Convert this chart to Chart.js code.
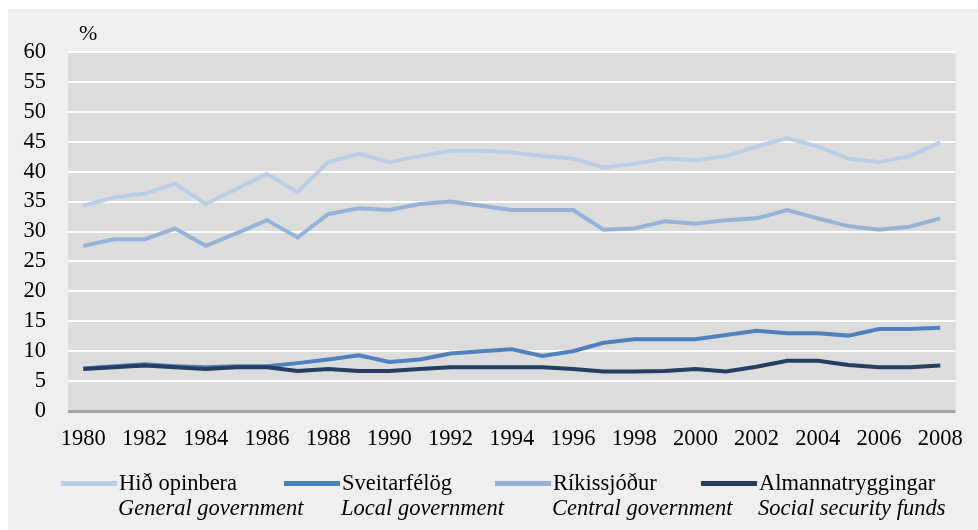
<!DOCTYPE html>
<html>
<head>
<meta charset="utf-8">
<script src="https://cdn.jsdelivr.net/npm/chart.js@4/dist/chart.umd.min.js"></script>
<style>
  html, body { margin: 0; padding: 0; background: #fff; }
  #wrap { position: relative; width: 978px; height: 530px; }
  #chart { position: absolute; left: 0; top: 0; }
  .leg { position: absolute; top: 470px; font-family: "Liberation Serif", "Times New Roman", serif; font-size: 22.5px; line-height: 25px; color: #000; }
  .leg .sw { position: absolute; top: 11px; height: 5px; width: 56px; }
  .leg .txt { position: absolute; white-space: nowrap; }
  .leg .en { font-style: italic; }
</style>
</head>
<body>
<div id="wrap">
  <canvas id="chart" width="978" height="530"></canvas>
  <div id="legend"></div>
</div>
<script>
// Gögn - hlutfall af VLF (%)
const ar = ['1980','1981','1982','1983','1984','1985','1986','1987','1988','1989',
  '1990','1991','1992','1993','1994','1995','1996','1997','1998','1999',
  '2000','2001','2002','2003','2004','2005','2006','2007','2008'];

const hidOpinbera = [34.3, 35.7, 36.3, 38.0, 34.6, 37.1, 39.6, 36.6, 41.6, 43.0,
  41.6, 42.6, 43.5, 43.5, 43.2, 42.6, 42.2, 40.7, 41.3, 42.2,
  41.9, 42.6, 44.2, 45.6, 44.2, 42.2, 41.6, 42.6, 44.9];

const sveitarfelog = [7.1, 7.5, 7.8, 7.5, 7.3, 7.5, 7.5, 8.0, 8.6, 9.3,
  8.2, 8.6, 9.6, 10.0, 10.3, 9.2, 10.0, 11.4, 12.0, 12.0,
  12.0, 12.7, 13.4, 13.0, 13.0, 12.6, 13.7, 13.7, 13.9];

const rikissjodur = [27.6, 28.7, 28.7, 30.5, 27.6, 29.7, 31.9, 29.0, 32.9, 33.9,
  33.6, 34.6, 35.0, 34.3, 33.6, 33.6, 33.6, 30.3, 30.5, 31.7,
  31.3, 31.9, 32.2, 33.6, 32.2, 30.9, 30.3, 30.8, 32.2];

const almannatryggingar = [7.0, 7.3, 7.6, 7.3, 7.0, 7.3, 7.3, 6.7, 7.0, 6.7,
  6.7, 7.0, 7.3, 7.3, 7.3, 7.3, 7.0, 6.6, 6.6, 6.7,
  7.0, 6.6, 7.4, 8.4, 8.4, 7.7, 7.3, 7.3, 7.6];

const yTicks = [0, 5, 10, 15, 20, 25, 30, 35, 40, 45, 50, 55, 60];

const raðir = [
  { is: 'Hið opinbera', en: 'General government', data: hidOpinbera, litur: '#b9cde5', order: 4, left: 61 },
  { is: 'Sveitarfélög', en: 'Local government', data: sveitarfelog, litur: '#4f81bd', order: 3, left: 284 },
  { is: 'Ríkissjóður', en: 'Central government', data: rikissjodur, litur: '#95b3d7', order: 2, left: 495 },
  { is: 'Almannatryggingar', en: 'Social security funds', data: almannatryggingar, litur: '#243f60', order: 1, left: 701 }
];

const letur = '"Liberation Serif", "Times New Roman", serif';

// Bakgrunnur og prósentumerki
const bakgrunnur = {
  id: 'bakgrunnur',
  beforeDraw(chart) {
    const ctx = chart.ctx;
    const a = chart.chartArea;
    ctx.save();
    ctx.fillStyle = '#efefef';
    ctx.fillRect(8, 9, 970, 521);
    ctx.fillStyle = '#dcdcdc';
    ctx.fillRect(a.left, a.top, a.right - a.left, a.bottom - a.top);
    ctx.fillStyle = '#000';
    ctx.font = '22px ' + letur;
    ctx.textBaseline = 'alphabetic';
    ctx.fillText('%', 79, 40);
    ctx.restore();
  }
};

new Chart(document.getElementById('chart'), {
  type: 'line',
  data: {
    labels: ar,
    datasets: raðir.map(r => ({
      label: r.is,
      data: r.data,
      borderColor: r.litur,
      backgroundColor: r.litur,
      borderWidth: 4,
      pointRadius: 0,
      tension: 0,
      order: r.order
    }))
  },
  options: {
    responsive: false,
    animation: false,
    layout: { padding: { left: 10, right: 16, top: 52, bottom: 79 } },
    plugins: {
      legend: { display: false },
      tooltip: { enabled: false }
    },
    scales: {
      x: {
        offset: true,
        grid: { display: false, drawTicks: false },
        border: { display: false },
        afterFit: s => { s.height = 40; },
        ticks: {
          autoSkip: false,
          maxRotation: 0,
          padding: 15,
          color: '#000',
          font: { family: letur, size: 22.5 },
          callback: (v, i) => i % 2 === 0 ? ar[i] : ''
        }
      },
      y: {
        min: 0,
        max: 60,
        afterFit: s => { s.width = 58; },
        afterBuildTicks: s => { s.ticks = yTicks.map(v => ({ value: v })); },
        grid: {
          drawTicks: false,
          color: c => c.tick.value === 0 ? '#a6a6a6' : '#ffffff',
          lineWidth: c => c.tick.value === 0 ? 3 : 2
        },
        border: { display: false },
        ticks: {
          autoSkip: false,
          padding: 22,
          color: '#000',
          font: { family: letur, size: 22.5 }
        }
      }
    }
  },
  plugins: [bakgrunnur]
});

// Skýringar
const legend = document.getElementById('legend');
raðir.forEach(r => {
  const d = document.createElement('div');
  d.className = 'leg';
  d.style.left = r.left + 'px';
  d.innerHTML = '<div class="sw" style="left:0;background:' + r.litur + '"></div>' +
    '<div class="txt" style="left:58px;top:0">' + r.is + '</div>' +
    '<div class="txt en" style="left:57px;top:25px">' + r.en + '</div>';
  legend.appendChild(d);
});
</script>
</body>
</html>
